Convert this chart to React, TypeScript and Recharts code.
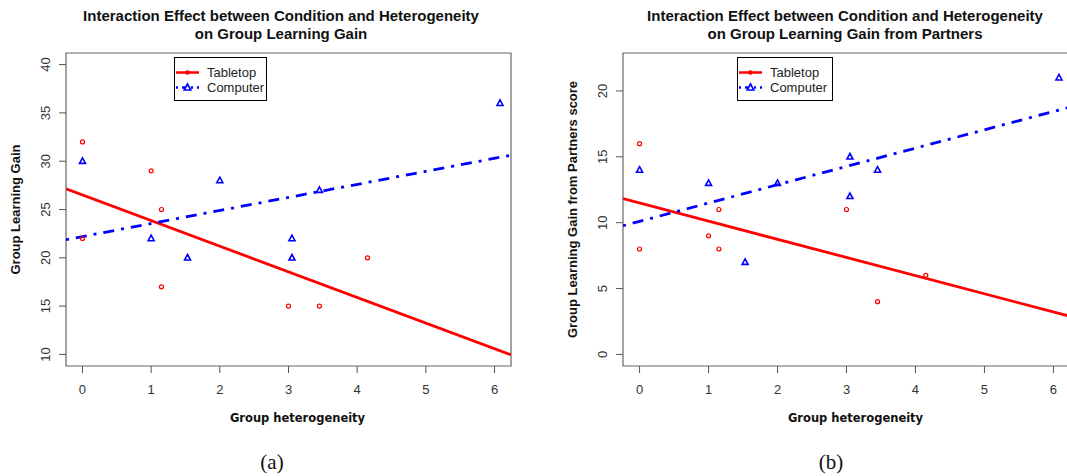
import React from 'react';
import { ScatterChart, Scatter, XAxis, YAxis, ReferenceLine, ReferenceArea, Legend } from 'recharts';

// ---------- data ----------
const seriesNames = ['Tabletop', 'Computer'];
const heterogeneityTabletop = [0, 0, 1, 1.15, 1.15, 3, 3.45, 4.15];
const heterogeneityComputer = [0, 1, 1.53, 2, 3.05, 3.05, 3.45, 6.08];

const gainTabletop = [32, 22, 29, 25, 17, 15, 15, 20];
const gainComputer = [30, 22, 20, 28, 22, 20, 27, 36];

const partnerGainTabletop = [16, 8, 9, 11, 8, 11, 4, 6];
const partnerGainComputer = [14, 13, 7, 13, 15, 12, 14, 21];

// fitted lines (intercept, slope)
const fitGainTabletop = [26.5, -2.65];
const fitGainComputer = [22.2, 1.35];
const fitPartnerTabletop = [11.5, -1.38];
const fitPartnerComputer = [10.1, 1.39];

const xTicks = [0, 1, 2, 3, 4, 5, 6];
const gainTicks = [10, 15, 20, 25, 30, 35, 40];
const partnerTicks = [0, 5, 10, 15, 20];

const titleA = ['Interaction Effect between Condition and Heterogeneity', 'on Group Learning Gain'];
const titleB = ['Interaction Effect between Condition and Heterogeneity', 'on Group Learning Gain from Partners'];
const xLabel = 'Group heterogeneity';
const yLabelA = 'Group Learning Gain';
const yLabelB = 'Group Learning Gain from Partners score';
const captions = ['(a)', '(b)'];

// ---------- style ----------
const RED = '#FF0000';
const BLUE = '#0000FF';
const SANS = '"Liberation Sans", Arial, sans-serif';
const XDOMAIN: [number, number] = [-0.24, 6.24];
const DASH = '3 7 11 7';

const zip = (xs: number[], ys: number[]) => xs.map((x, i) => ({ x, y: ys[i] }));

const CircleShape = (p: any) => (
  <circle cx={p.cx} cy={p.cy} r={2} fill="none" stroke={RED} strokeWidth={1.2} />
);
const TriangleShape = (p: any) => (
  <path
    d={`M${p.cx},${p.cy - 3.3} L${p.cx + 3},${p.cy + 2.2} L${p.cx - 3},${p.cy + 2.2} Z`}
    fill="none"
    stroke={BLUE}
    strokeWidth={1.6}
  />
);

const YTick = (p: any) => (
  <text
    transform={`translate(${p.x - 8.8},${p.y}) rotate(-90)`}
    textAnchor="middle"
    fontFamily={SANS}
    fontSize={13}
    fill="#333"
  >
    {p.payload.value}
  </text>
);

const LegendBox = ({ width }: { width: number }) => (
  <div style={{ width, height: 44, border: '1.5px solid #000', boxSizing: 'border-box', background: '#fff' }}>
    <svg width={width - 3} height={41} style={{ display: 'block' }}>
      <line x1={1} x2={24} y1={14.5} y2={14.5} stroke={RED} strokeWidth={2.5} />
      <circle cx={12.5} cy={14.5} r={2.3} fill={RED} />
      <text x={32} y={19} fontFamily={SANS} fontSize={13} fill="#222">{seriesNames[0]}</text>
      <line x1={1} x2={24} y1={29.5} y2={29.5} stroke={BLUE} strokeWidth={2.5} strokeDasharray="2 4 5 4" />
      <path d="M12.5,26 L15.8,32 L9.2,32 Z" fill="#fff" stroke={BLUE} strokeWidth={1.6} />
      <text x={32} y={34} fontFamily={SANS} fontSize={13} fill="#222">{seriesNames[1]}</text>
    </svg>
  </div>
);

type PanelProps = {
  left: number;
  tabletop: number[];
  computer: number[];
  fitT: number[];
  fitC: number[];
  yDomain: [number, number];
  yTicks: number[];
  yAxisWidth: number;
  marginRight: number;
  yLabel: string;
  legendLeft: number;
  legendWidth: number;
};

const Panel = (props: PanelProps) => {
  const { tabletop, computer, fitT, fitC, yDomain, yTicks } = props;
  const seg = (f: number[]) => [
    { x: XDOMAIN[0], y: f[0] + f[1] * XDOMAIN[0] },
    { x: XDOMAIN[1], y: f[0] + f[1] * XDOMAIN[1] },
  ];
  return (
    <div style={{ position: 'absolute', left: props.left, top: 0 }}>
      <ScatterChart
        width={540}
        height={476}
        margin={{ top: 53, right: props.marginRight, bottom: 80, left: 0 }}
      >
        <XAxis
          type="number"
          dataKey="x"
          domain={XDOMAIN}
          ticks={xTicks}
          allowDataOverflow
          axisLine={false}
          tickSize={7}
          tickMargin={12}
          tickLine={{ stroke: '#555' }}
          tick={{ fontFamily: SANS, fontSize: 13, fill: '#333' }}
          height={30}
          label={{
            content: (lp: any) => {
              const vb = lp.viewBox;
              return (
                <text
                  x={vb.x + vb.width / 2 + 9}
                  y={422}
                  textAnchor="middle"
                  fontFamily='"DejaVu Sans", Verdana, sans-serif'
                  fontWeight="bold"
                  fontSize={11.5}
                  fill="#111"
                >
                  {xLabel}
                </text>
              );
            },
          }}
        />
        <YAxis
          type="number"
          dataKey="y"
          domain={yDomain}
          ticks={yTicks}
          allowDataOverflow
          axisLine={false}
          tickSize={7}
          tickMargin={0}
          tickLine={{ stroke: '#555' }}
          tick={<YTick />}
          width={props.yAxisWidth}
          label={{
            content: (lp: any) => {
              const vb = lp.viewBox;
              const cy = vb.y + vb.height / 2;
              const bx = props.yAxisWidth - 46;
              return (
                <text
                  transform={`translate(${bx},${cy}) rotate(-90)`}
                  textAnchor="middle"
                  fontFamily={SANS}
                  fontWeight="bold"
                  fontSize={13}
                  fill="#111"
                >
                  {props.yLabel}
                </text>
              );
            },
          }}
        />
        <ReferenceArea
          x1={XDOMAIN[0]}
          x2={XDOMAIN[1]}
          y1={yDomain[0]}
          y2={yDomain[1]}
          fill="none"
          fillOpacity={0}
          stroke="#666"
          strokeWidth={1.2}
          ifOverflow="visible"
        />
        <ReferenceLine segment={seg(fitT)} stroke={RED} strokeWidth={2.8} ifOverflow="hidden" />
        <ReferenceLine
          segment={seg(fitC)}
          stroke={BLUE}
          strokeWidth={2.8}
          strokeDasharray={DASH}
          ifOverflow="hidden"
        />
        <Scatter
          name={seriesNames[0]}
          data={zip(heterogeneityTabletop, tabletop)}
          shape={<CircleShape />}
          isAnimationActive={false}
        />
        <Scatter
          name={seriesNames[1]}
          data={zip(heterogeneityComputer, computer)}
          shape={<TriangleShape />}
          isAnimationActive={false}
        />
        <Legend
          layout="vertical"
          align="center"
          verticalAlign="middle"
          content={() => <LegendBox width={props.legendWidth} />}
          wrapperStyle={{ position: 'absolute', left: props.legendLeft, top: 57, width: props.legendWidth, height: 44 }}
        />
      </ScatterChart>
    </div>
  );
};

const Title = ({ lines, cx }: { lines: string[]; cx: number }) => (
  <div
    style={{
      position: 'absolute',
      left: cx - 300,
      top: 7,
      width: 600,
      textAlign: 'center',
      fontFamily: SANS,
      fontWeight: 'bold',
      fontSize: 15,
      lineHeight: '17.5px',
      color: '#111',
      whiteSpace: 'pre',
    }}
  >
    {lines.map((l, i) => (
      <div key={i}>{l}</div>
    ))}
  </div>
);

const Caption = ({ text, cx }: { text: string; cx: number }) => (
  <div
    style={{
      position: 'absolute',
      left: cx - 50,
      top: 449,
      width: 100,
      textAlign: 'center',
      fontFamily: '"Liberation Serif", "Times New Roman", serif',
      fontSize: 21,
      lineHeight: '26px',
      color: '#111',
    }}
  >
    {text}
  </div>
);

export default function App() {
  return (
    <div
      style={{
        position: 'fixed',
        left: 0,
        top: 0,
        width: 1067,
        height: 476,
        overflow: 'hidden',
        background: '#fff',
      }}
    >
      <Panel
        left={0}
        tabletop={gainTabletop}
        computer={gainComputer}
        fitT={fitGainTabletop}
        fitC={fitGainComputer}
        yDomain={[8.8, 41.2]}
        yTicks={gainTicks}
        yAxisWidth={66}
        marginRight={29}
        yLabel={yLabelA}
        legendLeft={174}
        legendWidth={93}
      />
      <Panel
        left={540}
        tabletop={partnerGainTabletop}
        computer={partnerGainComputer}
        fitT={fitPartnerTabletop}
        fitC={fitPartnerComputer}
        yDomain={[-0.88, 22.88]}
        yTicks={partnerTicks}
        yAxisWidth={83}
        marginRight={10}
        yLabel={yLabelB}
        legendLeft={197}
        legendWidth={96}
      />
      <Title lines={titleA} cx={281} />
      <Title lines={titleB} cx={845} />
      <Caption text={captions[0]} cx={272} />
      <Caption text={captions[1]} cx={831} />
    </div>
  );
}
